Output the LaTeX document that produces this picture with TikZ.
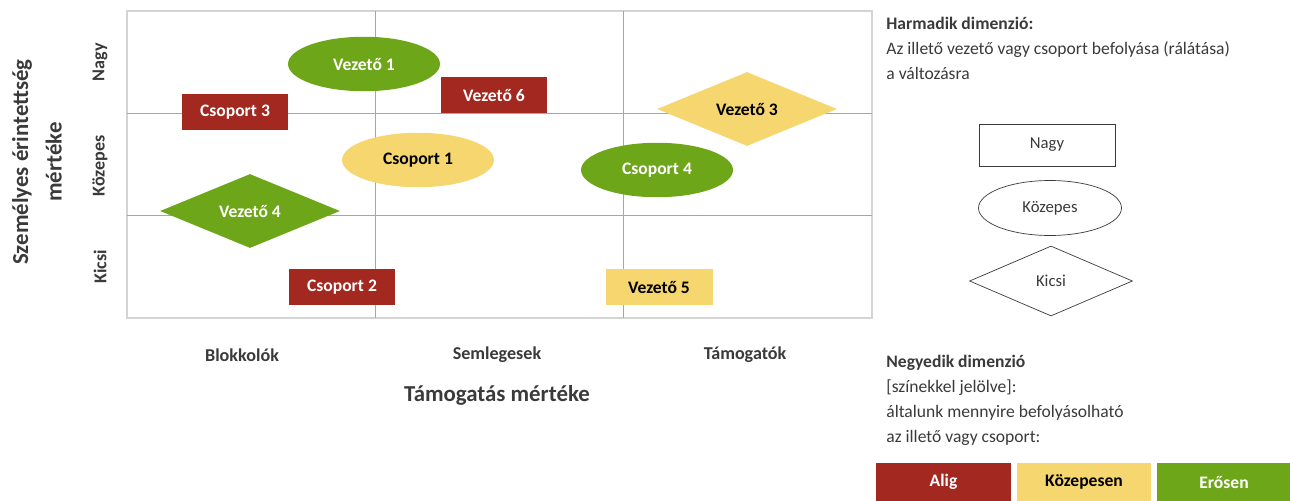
\documentclass[tikz,border=0pt]{standalone}
\usepackage{fontspec}
\setmainfont{Carlito}
\usepackage{xcolor}
\usetikzlibrary{positioning, shapes.geometric}

\definecolor{aligred}{HTML}{A3281F}
\definecolor{kozyellow}{HTML}{F6D66E}
\definecolor{erosgreen}{HTML}{6EA619}
\definecolor{gridgray}{HTML}{A6A6A6}
\definecolor{framegray}{HTML}{D4D4D4}
\definecolor{txtgray}{HTML}{3A3A3A}

\begin{document}
\begin{tikzpicture}[
    x=0.02cm, y=-0.02cm,
    every node/.style={font=\fontsize{10}{12}\selectfont\bfseries, inner sep=0pt},
    rect_item/.style={rectangle, minimum width=2.14cm, minimum height=0.73cm},
    ell_item/.style={ellipse, minimum width=3.04cm, minimum height=1.09cm},
    dia_item/.style={diamond, minimum width=3.6cm, minimum height=1.27cm},
    alig/.style={fill=aligred, text=white},
    kozep/.style={fill=kozyellow, text=black},
    eros/.style={fill=erosgreen, text=white},
    legend_shape/.style={draw=txtgray, fill=white, text=txtgray,
        font=\fontsize{9.5}{11}\selectfont},
    axis_label/.style={font=\fontsize{13}{15}\selectfont\bfseries, text=txtgray},
    cat_label/.style={font=\fontsize{10.3}{12}\selectfont\bfseries, text=txtgray},
    legend_text/.style={font=\fontsize{10}{14.2}\selectfont, text=txtgray,
        align=left, anchor=north west},
]
    \useasboundingbox (0,0) rectangle (1290,500);

    % grid
    \draw[framegray, line width=1.2pt] (127,11) rectangle (872,318);
    \foreach \gx in {375,623}
        \draw[gridgray, line width=0.5pt] (\gx,11) -- (\gx,318);
    \foreach \gy in {113,215}
        \draw[gridgray, line width=0.5pt] (127,\gy) -- (872,\gy);

    % axis texts
    \node[axis_label, rotate=90, align=center] (ylabel) at (37,162)
        {Személyes érintettség\\[4pt]mértéke};
    \node[cat_label, rotate=90] (nagy) at (100,62) {Nagy};
    \node[cat_label, rotate=90] (kozepes) at (100,166) {Közepes};
    \node[cat_label, rotate=90] (kicsi) at (100,267) {Kicsi};
    \node[cat_label] (blokk) at (242,355) {Blokkolók};
    \node[cat_label] (semleg) at (497,355) {Semlegesek};
    \node[cat_label] (tamog) at (745,355) {Támogatók};
    \node[axis_label] (xlabel) at (497,395) {Támogatás mértéke};

    % stakeholders
    \node[ell_item, eros] (vez1) at (364,64) {Vezető 1};
    \node[rect_item, alig] (csop3) at (235,112) {Csoport 3};
    \node[rect_item, alig] (vez6) at (494,95) {Vezető 6};
    \node[dia_item, kozep] (vez3) at (747,109) {Vezető 3};
    \node[ell_item, kozep] (csop1) at (418,160) {Csoport 1};
    \node[ell_item, eros] (csop4) at (657,170) {Csoport 4};
    \node[dia_item, eros] (vez4) at (250,211) {Vezető 4};
    \node[rect_item, alig] (csop2) at (342,287) {Csoport 2};
    \node[rect_item, kozep] (vez5) at (659,287) {Vezető 5};

    % legend: third dimension
    \node[legend_text] (harm) at (886,17)
        {\textbf{Harmadik dimenzió:}\\Az illető vezető vagy csoport befolyása (rálátása)\\a változásra};
    \node[legend_shape, rectangle, minimum width=2.72cm, minimum height=0.84cm] (lgnagy) at (1047,145) {Nagy};
    \node[legend_shape, ellipse, minimum width=2.86cm, minimum height=1.1cm] (lgkozep) at (1050,208) {Közepes};
    \node[legend_shape, diamond, minimum width=3.26cm, minimum height=1.4cm] (lgkicsi) at (1051,281) {Kicsi};

    % legend: fourth dimension
    \node[legend_text] (negy) at (886,355)
        {\textbf{Negyedik dimenzió}\\{}[színekkel jelölve]:\\általunk mennyire befolyásolható\\az illető vagy csoport:};
    \node[rect_item, alig, minimum width=2.7cm, minimum height=0.76cm] (lgalig) at (943.5,482) {Alig};
    \node[rect_item, kozep, minimum width=2.68cm, minimum height=0.76cm] (lgkozepesen) at (1084,482) {Közepesen};
    \node[rect_item, eros, minimum width=2.7cm, minimum height=0.76cm] (lgeros) at (1224,482) {Erősen};
\end{tikzpicture}
\end{document}
